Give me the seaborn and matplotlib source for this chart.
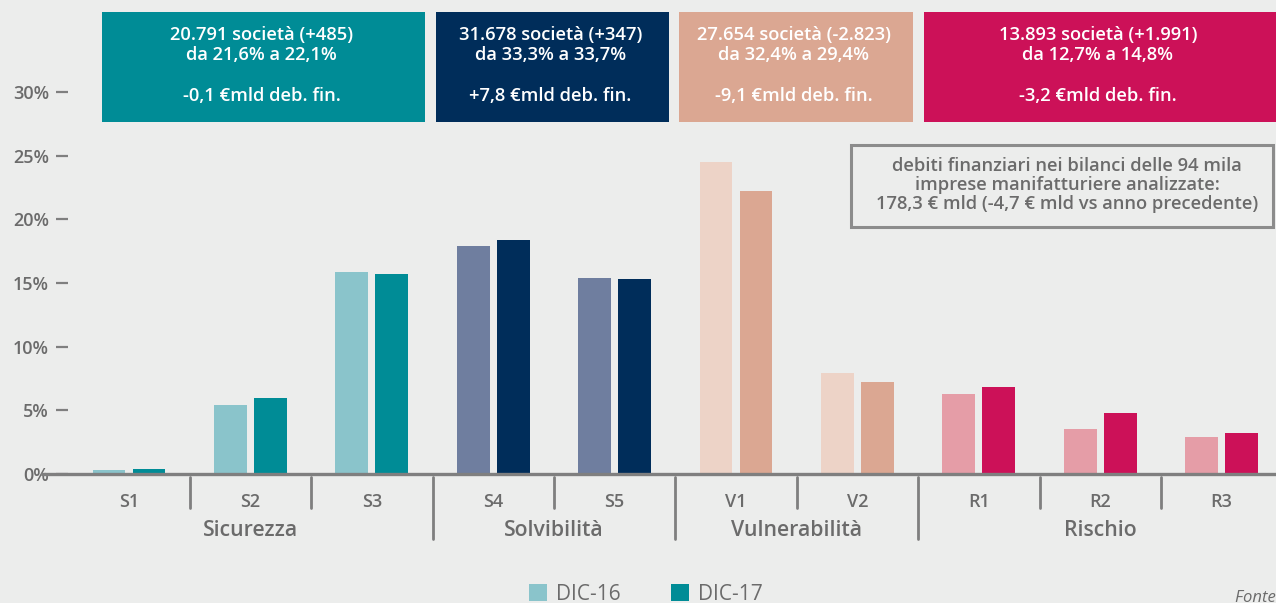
import matplotlib
matplotlib.use("Agg")
import matplotlib.pyplot as plt
import seaborn as sns
import pandas as pd
from matplotlib.patches import Rectangle, Patch
from matplotlib.lines import Line2D

# ---------------- data ----------------
categories = ["S1", "S2", "S3", "S4", "S5", "V1", "V2", "R1", "R2", "R3"]
groups = ["Sicurezza", "Sicurezza", "Sicurezza", "Solvibilità", "Solvibilità",
          "Vulnerabilità", "Vulnerabilità", "Rischio", "Rischio", "Rischio"]
dic16 = [0.3, 5.4, 15.9, 17.9, 15.4, 24.5, 7.9, 6.3, 3.5, 2.9]
dic17 = [0.4, 6.0, 15.7, 18.4, 15.3, 22.2, 7.2, 6.8, 4.8, 3.2]
series = ["DIC-16", "DIC-17"]
group_names = ["Sicurezza", "Solvibilità", "Vulnerabilità", "Rischio"]
ytick_vals = [0, 5, 10, 15, 20, 25, 30]
ytick_labels = ["0%", "5%", "10%", "15%", "20%", "25%", "30%"]
box_texts = [
    "20.791 società (+485)\nda 21,6% a 22,1%\n\n-0,1 €mld deb. fin.",
    "31.678 società (+347)\nda 33,3% a 33,7%\n\n+7,8 €mld deb. fin.",
    "27.654 società (-2.823)\nda 32,4% a 29,4%\n\n-9,1 €mld deb. fin.",
    "13.893 società (+1.991)\nda 12,7% a 14,8%\n\n-3,2 €mld deb. fin.",
]
note_text = ("debiti finanziari nei bilanci delle 94 mila\n"
             "imprese manifatturiere analizzate:\n"
             "178,3 € mld (-4,7 € mld vs anno precedente)")

# colours per group: (light, dark)
group_colors = {
    "Sicurezza": ("#8AC4CB", "#008C96"),
    "Solvibilità": ("#6F7E9F", "#002D5A"),
    "Vulnerabilità": ("#EDD3C7", "#DBA792"),
    "Rischio": ("#E59DA7", "#CC1158"),
}

df = pd.DataFrame({
    "cat": categories * 2,
    "group": groups * 2,
    "serie": [series[0]] * len(categories) + [series[1]] * len(categories),
    "val": dic16 + dic17,
})

BG = "#ECEDEC"
GRAY = "#6B6B6B"
AXC = "#7F7F7F"
FONT = "Open Sans"

sns.set_theme(style="white")
plt.rcParams["font.family"] = [FONT, "DejaVu Sans"]

W, H = 1276, 603
fig = plt.figure(figsize=(W / 100, H / 100), dpi=100, facecolor=BG)


def fx(px):
    return px / W


def fy(py):
    return 1 - py / H


ax_left, ax_right, ax_bottom, ax_top = 68, 1276, 474, 0
ax = fig.add_axes([fx(ax_left), fy(ax_bottom), fx(ax_right - ax_left), (ax_bottom - ax_top) / H])
ax.set_facecolor(BG)

sns.barplot(data=df, x="cat", y="val", hue="serie", order=categories,
            hue_order=series, width=0.66, gap=0.18, ax=ax, legend=False,
            saturation=1)

for si, cont in enumerate(ax.containers):
    for ci, bar in enumerate(cont.patches):
        bar.set_facecolor(group_colors[groups[ci]][si])
        bar.set_edgecolor("none")

px_per_pct = (474 - 92) / 30
ax.set_ylim(0, 474 / px_per_pct)
ax.set_xlim((ax_left - 129) / 121.4, (ax_right - 129) / 121.4)

for s in ax.spines.values():
    s.set_visible(False)

ax.set_yticks(ytick_vals)
ax.set_yticklabels(ytick_labels)
ax.tick_params(axis="y", length=8.6, width=1.6, color=AXC, pad=5,
               labelsize=13, labelcolor=GRAY, left=True)
for t in ax.get_yticklabels():
    t.set_fontweight("semibold")

ax.set_xticks(range(len(categories)))
ax.set_xticklabels(categories)
ax.tick_params(axis="x", length=0, pad=13.5, labelsize=13, labelcolor=GRAY)
for t in ax.get_xticklabels():
    t.set_fontweight("semibold")
ax.set_xlabel("")
ax.set_ylabel("")

# baseline
ax.axhline(0, xmin=(42 - ax_left) / (ax_right - ax_left), xmax=1, color=AXC,
           lw=2.4, clip_on=False, zorder=5)

# separators
trans = ax.get_xaxis_transform()
axh = ax_bottom - ax_top
for i in range(len(categories) - 1):
    x = i + 0.5
    big = groups[i] != groups[i + 1]
    y1 = -(539 - 474) / axh if big else -(508 - 474) / axh
    ax.add_line(Line2D([x, x], [-(477 - 474) / axh, y1], transform=trans,
                       color=AXC, lw=2, clip_on=False))

# group labels
for g in group_names:
    idx = [i for i, gg in enumerate(groups) if gg == g]
    xc = (idx[0] + idx[-1]) / 2
    ax.text(xc, -(530 - 474) / axh, g, transform=trans, ha="center", va="center",
            fontsize=15.3, color=GRAY, fontweight="semibold")

# top boxes
box_px = [(102, 425), (436, 669), (679, 913), (924, 1280)]
for (x0, x1), txt, g in zip(box_px, box_texts, group_names):
    fig.patches.append(Rectangle((fx(x0), fy(122)), fx(x1 - x0), (122 - 12) / H,
                                 transform=fig.transFigure, facecolor=group_colors[g][1],
                                 edgecolor="none", zorder=1))
    xc = (x0 + min(x1, 1276)) / 2
    fig.text(fx(xc - 2), fy(65.5), txt, ha="center", va="center", multialignment="center",
             color="white", fontsize=13.2, fontweight="semibold", linespacing=1.17, zorder=3)

# note box
fig.patches.append(Rectangle((fx(851), fy(227)), fx(1273 - 851), (227 - 145) / H,
                             transform=fig.transFigure, facecolor="none",
                             edgecolor="#8C8C8C", lw=2.2, zorder=1))
fig.text(fx(1067), fy(185), note_text, ha="center", va="center", multialignment="center",
         color=GRAY, fontsize=13.2, fontweight="semibold", linespacing=1.08)

# legend
handles = [Patch(facecolor=group_colors["Sicurezza"][0], edgecolor="none", label=series[0]),
           Patch(facecolor=group_colors["Sicurezza"][1], edgecolor="none", label=series[1])]
fig.legend(handles=handles, loc="center", bbox_to_anchor=(fx(646), fy(594)), ncol=2,
           frameon=False, fontsize=15, labelcolor=GRAY, handlelength=0.85,
           handleheight=0.85, handletextpad=0.45, columnspacing=2.4)

fig.text(fx(1235), fy(598), "Fonte: Cerved", ha="left", va="center", fontsize=12,
         color=GRAY, style="italic")

fig.savefig("out.png", dpi=100, facecolor=BG)
